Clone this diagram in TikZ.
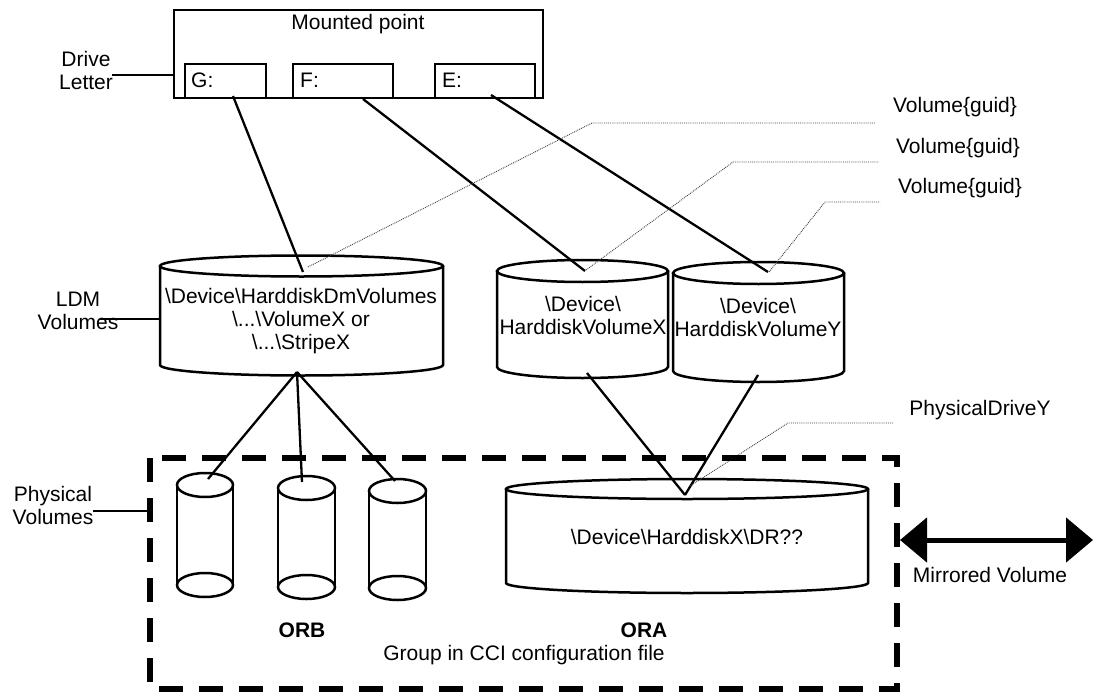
\documentclass[tikz,border=0pt]{standalone}
\usepackage{fontspec}
\setmainfont{Liberation Sans}
\usetikzlibrary{arrows.meta}
\newcommand\drawcyl[6]{% name, cx, half width, y top, y bottom, ry
  \draw[shp] (#2-#3,#4) -- (#2-#3,#5) arc[start angle=180,end angle=0,x radius=#3,y radius=#6] -- (#2+#3,#4);
  \draw[shp] (#2,#4) ellipse[x radius=#3,y radius=#6];
}
\newcommand\drawsmallcyl[6]{% name, cx, half width, y top, y bottom, ry
  \draw[shp] (#2-#3,#4) -- (#2-#3,#5);
  \draw[shp] (#2+#3,#4) -- (#2+#3,#5);
  \draw[shp] (#2,#4) ellipse[x radius=#3,y radius=#6];
  \draw[shp] (#2,#5) ellipse[x radius=#3,y radius=#6];
}
\begin{document}
\begin{tikzpicture}[x=1pt,y=-1pt,
  every node/.style={font=\fontsize{21}{23}\selectfont, inner sep=0pt, align=center},
  box/.style={draw, line width=2.6pt},
  conn/.style={line width=2.3pt},
  lead/.style={line width=0.9pt, densely dotted, black!75},
  shp/.style={line width=2.5pt},
  grp/.style={line width=5.5pt, dash pattern=on 24pt off 16pt},
  mirror/.style={line width=5pt, {Triangle[length=27pt,width=44pt]}-{Triangle[length=27pt,width=44pt]}},
]
\useasboundingbox (0,0) rectangle (1095,693);

% Mounted point box
\node[box, minimum width=369pt, minimum height=88pt] (mp) at (358.5,54) {};
\node (mptext) at (358,24) {Mounted point};
\node[box, minimum width=81pt, minimum height=34pt] (g) at (225.5,81) {};
\node[box, minimum width=100pt, minimum height=34pt] (f) at (343,81) {};
\node[box, minimum width=100pt, minimum height=34pt] (e) at (485,81) {};
\node[anchor=west] (gt) at (191,80) {G:};
\node[anchor=west] (ft) at (300,80) {F:};
\node[anchor=west] (et) at (442,80) {E:};

% Drive letter
\node (dl) at (86,70) {Drive\\Letter};
\coordinate (dlend) at (112,75);
\draw[line width=2pt] (dlend) -- (dlend -| mp.west);

% Cylinders
\drawcyl{ldm}{301.5}{141.5}{266}{365}{10.5}
\drawcyl{hvx}{582.5}{85.5}{271}{367}{11}
\drawcyl{hvy}{758.5}{85.5}{273}{371}{11}
\drawsmallcyl{c1}{205}{28}{485}{585}{12}
\drawsmallcyl{c2}{306.5}{28.5}{488}{587}{12}
\drawsmallcyl{c3}{397.5}{28.5}{491}{588}{12}
\drawcyl{ora}{687}{181}{489}{583}{10}

\node (ldmt) at (301,321) {\textbackslash Device\textbackslash HarddiskDmVolumes\\\textbackslash ...\textbackslash VolumeX or\\\textbackslash ...\textbackslash StripeX};
\node (hvxt) at (583,315) {\textbackslash Device\textbackslash\\HarddiskVolumeX};
\node (hvyt) at (758,317) {\textbackslash Device\textbackslash\\HarddiskVolumeY};
\node (orat) at (687,537) {\textbackslash Device\textbackslash HarddiskX\textbackslash DR??};

% connector end points
\coordinate (gs) at (233,96);
\coordinate (fs) at (363,99);
\coordinate (es) at (491,95);
\coordinate (ldmin) at (303,272);
\coordinate (hvxin) at (585,271);
\coordinate (hvyin) at (768,272);
\coordinate (ldmout) at (297,372);
\coordinate (c1in) at (208,479);
\coordinate (c2in) at (302,482);
\coordinate (c3in) at (395,481);
\coordinate (hvxout) at (587,373);
\coordinate (hvyout) at (758,375);
\coordinate (orain) at (685,495);

\draw[conn] (gs) -- (ldmin);
\draw[conn] (fs) -- (hvxin);
\draw[conn] (es) -- (hvyin);
\draw[conn] (ldmout) -- (c1in);
\draw[conn] (ldmout) -- (c2in);
\draw[conn] (ldmout) -- (c3in);
\draw[conn] (hvxout) -- (orain);
\draw[conn] (hvyout) -- (orain);

% leaders
\node (v1) at (955,107) {Volume\{guid\}};
\node (v2) at (958,148) {Volume\{guid\}};
\node (v3) at (960,188) {Volume\{guid\}};
\node (pdy) at (980,410) {PhysicalDriveY};
\coordinate (l1a) at (308,267); \coordinate (l1b) at (592,123); \coordinate (l1c) at (875,123);
\coordinate (l2a) at (586,270); \coordinate (l2b) at (733,162); \coordinate (l2c) at (879,162);
\coordinate (l3a) at (769,272); \coordinate (l3b) at (825,202); \coordinate (l3c) at (880,202);
\coordinate (l4a) at (690,486); \coordinate (l4b) at (788,423); \coordinate (l4c) at (893,423);
\draw[lead] (l1a) -- (l1b) -- (l1c);
\draw[lead] (l2a) -- (l2b) -- (l2c);
\draw[lead] (l3a) -- (l3b) -- (l3c);
\draw[lead] (l4a) -- (l4b) -- (l4c);

% group rectangle
\draw[grp] (150,458) rectangle (897,689);
\node[font=\fontsize{21}{23}\selectfont\bfseries] (orb) at (302,630) {ORB};
\node[font=\fontsize{21}{23}\selectfont\bfseries] (ora) at (644,630) {ORA};
\node (grpt) at (524,655) {Group in CCI configuration file};

% side labels
\node (ldml) at (78,311) {LDM\\Volumes};
\coordinate (ldmle) at (100,319);
\draw[line width=2pt] (ldmle) -- (160,319);
\node (pvl) at (53,505) {Physical\\Volumes};
\coordinate (pvle) at (93,511);
\draw[line width=2pt] (pvle) -- (150,511);

% mirrored
\coordinate (mirl) at (900,540);
\coordinate (mirr) at (1093,540);
\draw[mirror] (mirl) -- (mirr);
\node (mirt) at (990,575) {Mirrored Volume};
\end{tikzpicture}
\end{document}
